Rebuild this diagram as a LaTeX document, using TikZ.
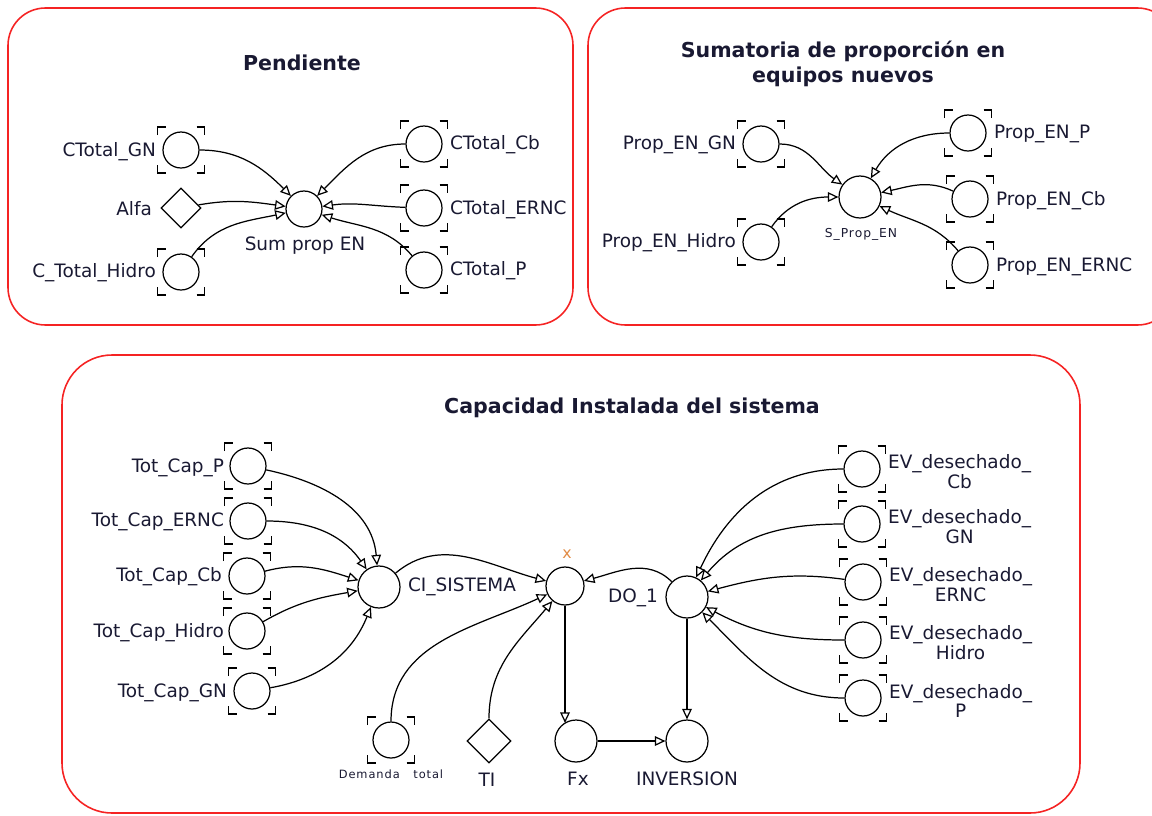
\documentclass[tikz,border=0pt]{standalone}
\usepackage{fontspec}
\setmainfont{DejaVu Sans}
\newfontfamily\smallfont[LetterSpace=8]{DejaVu Sans}
\usetikzlibrary{arrows.meta,shapes.geometric}

\definecolor{ink}{RGB}{25,25,50}
\definecolor{frame}{RGB}{245,35,35}
\definecolor{xlabel}{RGB}{225,140,70}

\newcommand{\ghostmarks}[1]{%
    \draw[corner] ([shift={(-23.5,-15)}]#1.center) |- ([shift={(-15.5,-23)}]#1.center);
    \draw[corner] ([shift={(15.5,-23)}]#1.center) -| ([shift={(23.5,-15)}]#1.center);
    \draw[corner] ([shift={(-23.5,15)}]#1.center) |- ([shift={(-15.5,23)}]#1.center);
    \draw[corner] ([shift={(15.5,23)}]#1.center) -| ([shift={(23.5,15)}]#1.center);
}

\begin{document}
\begin{tikzpicture}[x=0.02cm, y=-0.02cm, font=\fontsize{10.5}{9.8}\selectfont, text=ink,
    var/.style={circle, draw, line width=0.7pt, minimum size=0.72cm, inner sep=0pt},
    bigvar/.style={var, minimum size=0.84cm},
    const/.style={diamond, draw, line width=0.7pt, minimum size=0.8cm, inner sep=0pt},
    lbl/.style={inner sep=1pt},
    small/.style={lbl, font=\smallfont\fontsize{7}{9}\selectfont},
    title/.style={font=\fontsize{11.7}{14}\selectfont\bfseries, align=center},
    corner/.style={line width=0.85pt},
    link/.style={line width=0.7pt, -{Triangle[open, length=6pt, width=5.5pt]}},
    panel/.style={draw=frame, line width=0.9pt, rounded corners=0.75cm}]
    \useasboundingbox (0,0) rectangle (1152,815);
    \clip (0,0) rectangle (1152,815);

    \draw[panel] (8,8) rectangle (573,325);
    \draw[panel] (588,8) rectangle (1175,325);
    \draw[panel, rounded corners=1cm] (62,355) rectangle (1080,813);

    \node[title] (t-pend) at (302,63) {Pendiente};
    \node[title] (t-sum) at (843,64) {Sumatoria de proporción en\\equipos nuevos};
    \node[title] (t-cap) at (632,408) {Capacidad Instalada del sistema};

    \node[var] (cgn) at (181,150) {};
    \node[const] (alfa) at (181,208) {};
    \node[var] (chid) at (181,272) {};
    \node[var] (sum) at (304,209) {};
    \node[var] (ccb) at (424,144) {};
    \node[var] (cernc) at (424,208) {};
    \node[var] (cp) at (424,270) {};
    \node[lbl, anchor = east] (cgn-l) at (158,152) {CTotal\_GN};
    \node[lbl, anchor = east] (alfa-l) at (154,209) {Alfa};
    \node[lbl, anchor = east] (chid-l) at (158,273) {C\_Total\_Hidro};
    \node[lbl] (sum-l) at (305,246) {Sum prop EN};
    \node[lbl, anchor = west] (ccb-l) at (448,145) {CTotal\_Cb};
    \node[lbl, anchor = west] (cernc-l) at (448,210) {CTotal\_ERNC};
    \node[lbl, anchor = west] (cp-l) at (448,271) {CTotal\_P};

    \draw[link] (cgn) to[out=0, in=135] (sum);
    \draw[link] (alfa) to[out=10, in=172] (sum);
    \draw[link] (chid) to[out=55, in=192] (sum);
    \draw[link] (ccb) to[out=180, in=45] (sum);
    \draw[link] (cernc) to[out=178, in=8] (sum);
    \draw[link] (cp) to[out=130, in=-18] (sum);

    \node[var] (pgn) at (761,144) {};
    \node[var] (phid) at (761,242) {};
    \node[bigvar] (sp) at (860,197) {};
    \node[var] (pp) at (968,133) {};
    \node[var] (pcb) at (970,199) {};
    \node[var] (pernc) at (970,265) {};
    \node[lbl, anchor = east] (pgn-l) at (738,145) {Prop\_EN\_GN};
    \node[lbl, anchor = east] (phid-l) at (738,243) {Prop\_EN\_Hidro};
    \node[small] (sp-l) at (861,234) {S\_Prop\_EN};
    \node[lbl, anchor = west] (pp-l) at (992,134) {Prop\_EN\_P};
    \node[lbl, anchor = west] (pcb-l) at (994,201) {Prop\_EN\_Cb};
    \node[lbl, anchor = west] (pernc-l) at (994,267) {Prop\_EN\_ERNC};

    \draw[link] (pgn) to[out=0, in=145] (sp);
    \draw[link] (phid) to[out=55, in=180] (sp);
    \draw[link] (pp) to[out=180, in=60] (sp);
    \draw[link] (pcb) to[out=155, in=12] (sp);
    \draw[link] (pernc) to[out=130, in=-25] (sp);

    \node[var] (tp) at (248,466) {};
    \node[var] (te) at (248,521) {};
    \node[var] (tcb) at (247,576) {};
    \node[var] (th) at (247,631) {};
    \node[var] (tgn) at (252,691) {};
    \node[bigvar] (ci) at (379,587) {};
    \node[var, minimum size=0.76cm] (xv) at (565,586) {};
    \node[bigvar] (do) at (687,597) {};
    \node[var] (dem) at (391,740) {};
    \node[const, minimum size=0.88cm] (ti) at (489,741) {};
    \node[bigvar] (fx) at (576,741) {};
    \node[bigvar] (inv) at (687,741) {};
    \node[var] (evcb) at (862,469) {};
    \node[var] (evgn) at (862,524) {};
    \node[var] (evernc) at (863,582) {};
    \node[var] (evh) at (863,640) {};
    \node[var] (evp) at (863,698) {};

    \node[lbl, anchor = east] (tp-l) at (226,468) {Tot\_Cap\_P};
    \node[lbl, anchor = east] (te-l) at (226,522) {Tot\_Cap\_ERNC};
    \node[lbl, anchor = east] (tcb-l) at (224,577) {Tot\_Cap\_Cb};
    \node[lbl, anchor = east] (th-l) at (226,633) {Tot\_Cap\_Hidro};
    \node[lbl, anchor = east] (tgn-l) at (229,693) {Tot\_Cap\_GN};
    \node[lbl, anchor = west] (ci-l) at (406,587) {CI\_SISTEMA};
    \node[lbl, text=xlabel, font=\fontsize{9}{10}\selectfont] (xv-l) at (567,554) {x};
    \node[lbl] (do-l) at (633,598) {DO\_1};
    \node[small, font=\smallfont\fontsize{6.5}{8}\selectfont] (dem-l) at (391,774) {Demanda\ \ \ total};
    \node[lbl] (ti-l) at (487,780) {TI};
    \node[lbl] (fx-l) at (578,779) {Fx};
    \node[lbl] (inv-l) at (687,779) {INVERSION};
    \node[lbl, anchor = west, align = center] (evcb-l) at (886,472) {EV\_desechado\_\\Cb};
    \node[lbl, anchor = west, align = center] (evgn-l) at (886,527) {EV\_desechado\_\\GN};
    \node[lbl, anchor = west, align = center] (evernc-l) at (887,585) {EV\_desechado\_\\ERNC};
    \node[lbl, anchor = west, align = center] (evh-l) at (887,643) {EV\_desechado\_\\Hidro};
    \node[lbl, anchor = west, align = center] (evp-l) at (887,701) {EV\_desechado\_\\P};

    \draw[link] (tp) to[out=-12, in=95] (ci);
    \draw[link] (te) to[out=0, in=125] (ci);
    \draw[link] (tcb) to[out=15, in=162] (ci);
    \draw[link] (th) to[out=30, in=190] (ci);
    \draw[link] (tgn) to[out=10, in=-112] (ci);
    \draw[link] (ci) to[out=40, in=165] (xv);
    \draw[link] (dem) to[out=90, in=-155] (xv);
    \draw[link] (ti) to[out=90, in=-130] (xv);
    \draw[link] (do) to[out=135, in=15] (xv);
    \draw[link, shorten >=-2pt] (xv) -- (xv |- fx.north);
    \draw[link] (do) -- (inv);
    \draw[link] (fx) -- (inv);
    \draw[link] (evcb) to[out=180, in=65] (do);
    \draw[link] (evgn) to[out=180, in=50] (do);
    \draw[link] (evernc) to[out=172, in=15] (do);
    \draw[link] (evh) to[out=180, in=-28] (do);
    \draw[link] (evp) to[out=180, in=-45] (do);

    \foreach \g in {cgn,chid,ccb,cernc,cp,pgn,phid,pp,pcb,pernc,tp,te,tcb,th,tgn,dem,evcb,evgn,evernc,evh,evp}
        {\ghostmarks{\g}}
\end{tikzpicture}
\end{document}
